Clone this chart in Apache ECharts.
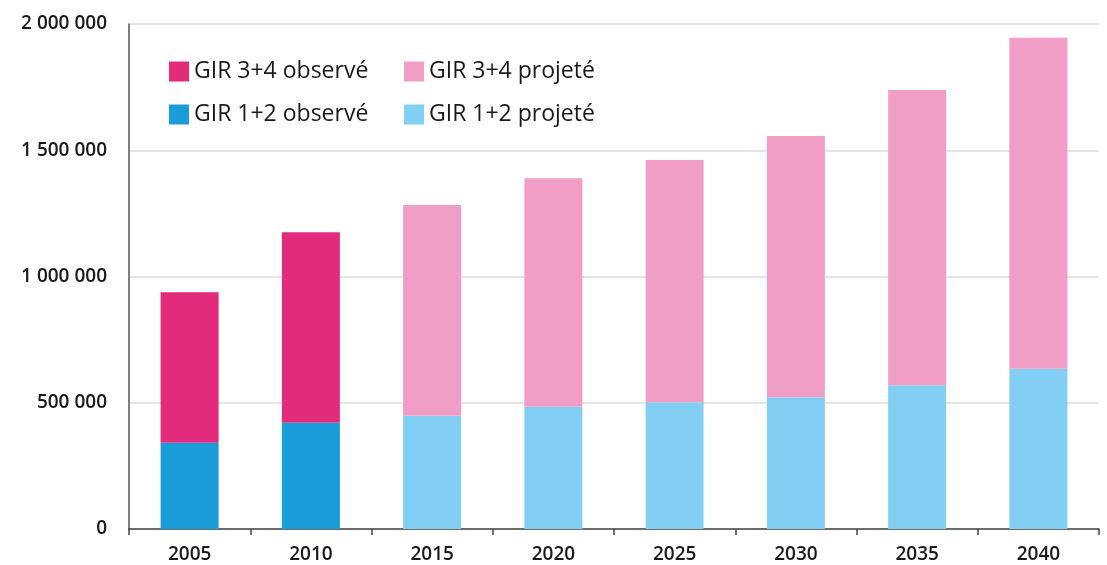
<!DOCTYPE html>
<html>
<head>
<meta charset="utf-8">
<script src="https://cdn.jsdelivr.net/npm/echarts@6/dist/echarts.min.js"></script>
<style>
  html, body { margin: 0; padding: 0; background: #fff; }
  #chart { width: 1107px; height: 565px; }
</style>
</head>
<body>
<div id="chart"></div>
<script>
// données
var annees = ['2005', '2010', '2015', '2020', '2025', '2030', '2035', '2040'];
var gir12Observe = [341800, 421000, 0, 0, 0, 0, 0, 0];
var gir12Projete = [0, 0, 448700, 484400, 501800, 521600, 569100, 634800];
var gir34Observe = [595600, 754000, 0, 0, 0, 0, 0, 0];
var gir34Projete = [0, 0, 834500, 904500, 959600, 1034800, 1169500, 1311000];

function formatNombre(v) {
  return String(v).replace(/\B(?=(\d{3})+(?!\d))/g, ' ');
}

var chart = echarts.init(document.getElementById('chart'), null, { renderer: 'canvas' });

var police = 'Open Sans';
var legendeTexte = { fontFamily: police, fontSize: 23, color: '#1a1a1a' };

var option = {
  animation: false,
  backgroundColor: '#ffffff',
  grid: { left: 129, right: 8, top: 24, bottom: 36 },
  legend: [{
    orient: 'vertical',
    left: 164,
    top: 55,
    itemWidth: 20,
    itemHeight: 20,
    itemGap: 20,
    icon: 'rect',
    textStyle: legendeTexte,
    data: ['GIR 3+4 observé', 'GIR 1+2 observé']
  }, {
    orient: 'vertical',
    left: 399,
    top: 55,
    itemWidth: 20,
    itemHeight: 20,
    itemGap: 20,
    icon: 'rect',
    textStyle: legendeTexte,
    data: ['GIR 3+4 projeté', 'GIR 1+2 projeté']
  }],
  xAxis: {
    type: 'category',
    data: annees,
    axisLine: { lineStyle: { color: '#444', width: 1.5 } },
    axisTick: { show: true, length: 6, lineStyle: { color: '#444', width: 1.5 } },
    axisLabel: { fontFamily: police, fontSize: 19, fontWeight: 600, color: '#1a1a1a', margin: 16 }
  },
  yAxis: {
    type: 'value',
    min: 0,
    max: 2000000,
    interval: 500000,
    axisLine: { show: true, lineStyle: { color: '#555', width: 1.5 } },
    axisTick: { show: false },
    splitLine: { lineStyle: { color: '#dcdcdc', width: 1.5 } },
    axisLabel: {
      fontFamily: police, fontSize: 19, fontWeight: 600, color: '#1a1a1a', margin: 22,
      verticalAlign: 'middle',
      padding: [0, 0, 4, 0],
      formatter: formatNombre
    }
  },
  series: [{
    name: 'GIR 1+2 observé',
    type: 'bar',
    stack: 'total',
    barWidth: 58,
    itemStyle: { color: '#199cd8' },
    data: gir12Observe
  }, {
    name: 'GIR 1+2 projeté',
    type: 'bar',
    stack: 'total',
    barWidth: 58,
    itemStyle: { color: '#83cef3' },
    data: gir12Projete
  }, {
    name: 'GIR 3+4 observé',
    type: 'bar',
    stack: 'total',
    barWidth: 58,
    itemStyle: { color: '#e32b7c' },
    data: gir34Observe
  }, {
    name: 'GIR 3+4 projeté',
    type: 'bar',
    stack: 'total',
    barWidth: 58,
    itemStyle: { color: '#f19ec6' },
    data: gir34Projete
  }]
};

chart.setOption(option);
</script>
</body>
</html>
